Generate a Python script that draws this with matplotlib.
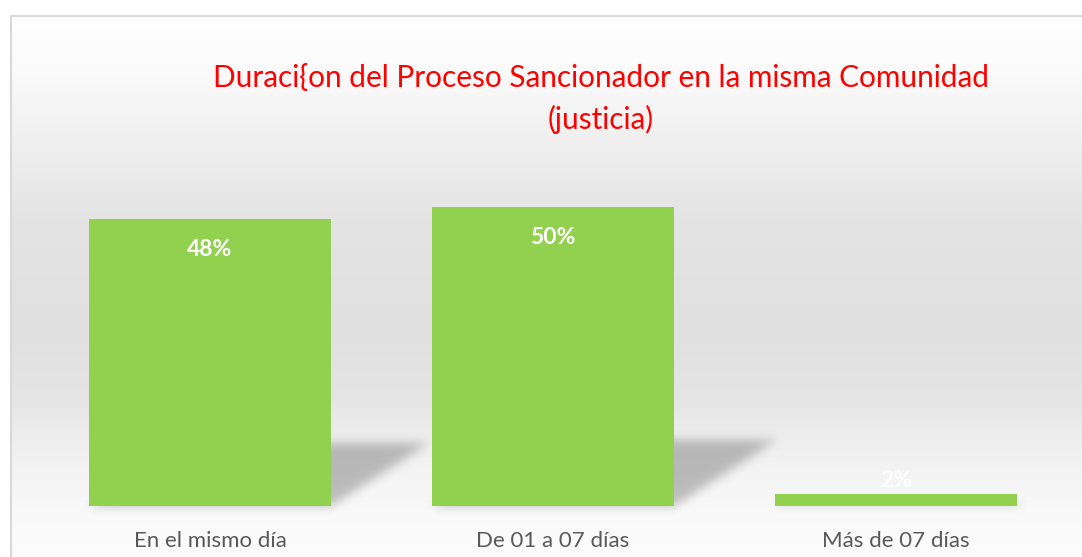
import numpy as np
import matplotlib
matplotlib.use("Agg")
import matplotlib.pyplot as plt
from matplotlib.path import Path

# ---- data ----
categories = ["En el mismo día", "De 01 a 07 días", "Más de 07 días"]
values = [48, 50, 2]
labels = ["48%", "50%", "2%"]
title = "Duraci{on del Proceso Sancionador en la misma Comunidad\n(justicia)"

W, H = 1082, 557
fig = plt.figure(figsize=(W / 100, H / 100), dpi=100)
FONT = ["Lato", "DejaVu Sans"]

# ---- background axes (pixel coords) ----
bg = fig.add_axes([0, 0, 1, 1])
bg.set_xlim(0, W)
bg.set_ylim(0, H)
bg.axis("off")

# vertical gradient profile (y from top, pixels)
ys_top = np.array([0, 15, 60, 150, 220, 330, 400, 450, 510, 557])
gv = np.array([255, 255, 252, 238, 228, 224, 229, 240, 249, 252]) / 255.0
rows = np.arange(H) + 0.5
prof = np.interp(H - rows, ys_top, gv)  # row 0 = bottom (origin lower)
grad = np.repeat(prof[:, None], W, axis=1)
img = np.dstack([grad, grad, grad])
img[(H - rows) < 15, :, :] = 1.0
img[:, :10, :] = 1.0
bg.imshow(img, extent=[0, W, 0, H], origin="lower", aspect="auto", zorder=0,
          interpolation="bilinear")
# border
bg.plot([10.5, 10.5, W], [0, H - 15.5, H - 15.5], color="#d9d9d9", lw=1.5, zorder=3)

# ---- main axes ----
x0, x1 = 38.5, 1067.5
ybot, ytop = 506, 147
ax = fig.add_axes([x0 / W, (H - ybot) / H, (x1 - x0) / W, (ybot - ytop) / H])
ax.set_facecolor("none")
ax.set_xlim(-0.5, len(categories) - 0.5)
ax.set_ylim(0, 60)
xpos = np.arange(len(categories))
bw = 0.708
bars = ax.bar(xpos, values, width=bw, color="#92D050", zorder=2)
for s in ax.spines.values():
    s.set_visible(False)
ax.set_yticks([])
ax.set_xticks(xpos)
ax.set_xticklabels(categories, fontsize=16, color="#595959", family=FONT)
ax.tick_params(axis="x", length=0, pad=18)

# ---- shadows (computed from bar geometry) ----
fig.canvas.draw()
gx, gy = np.meshgrid(np.arange(W) + 0.5, np.arange(H) + 0.5)
pts = np.column_stack([gx.ravel(), gy.ravel()])
mask = np.zeros(H * W)
for b in bars:
    (L, B0), (R, T) = ax.transData.transform([(b.get_x(), 0), (b.get_x() + b.get_width(), b.get_height())])
    ht = T - B0
    dx, dy = 0.34 * ht, 0.22 * ht
    poly = Path([(L, B0), (R, B0), (R + dx, B0 + dy), (L + dx, B0 + dy), (L, B0)])
    mask = np.maximum(mask, poly.contains_points(pts).astype(float))
mask = mask.reshape(H, W)
sig = 5.0
k = np.arange(-15, 16)
kern = np.exp(-k ** 2 / (2 * sig ** 2))
kern /= kern.sum()
blur = np.zeros_like(mask)
pad = np.pad(mask, ((0, 0), (15, 15)))
for i, kv in enumerate(kern):
    blur += kv * pad[:, i:i + W]
pad = np.pad(blur, ((15, 15), (0, 0)))
blur2 = np.zeros_like(mask)
for i, kv in enumerate(kern):
    blur2 += kv * pad[i:i + H, :]
shadow = np.zeros((H, W, 4))
shadow[..., 3] = 0.24 * blur2
bg.imshow(shadow, extent=[0, W, 0, H], origin="lower", aspect="auto", zorder=1)

# ---- data labels ----
for b, lab in zip(bars, labels):
    (_, B0), (_, T) = ax.transData.transform([(0, 0), (0, b.get_height())])
    xc = b.get_x() + b.get_width() / 2
    off = -31 if T - B0 > 40 else 14
    ax.annotate(lab, (xc, b.get_height()), xytext=(0, off * 0.72), textcoords="offset points",
                ha="center", va="center", color="white", fontsize=16.5, fontweight="bold",
                family=FONT, zorder=4)

# ---- title ----
fig.text(601 / W, 1 - 99 / H, title, ha="center", va="center", color="#FF0000",
         fontsize=21.4, family=FONT, linespacing=1.5, multialignment="center")

fig.savefig("out.png", dpi=100)
